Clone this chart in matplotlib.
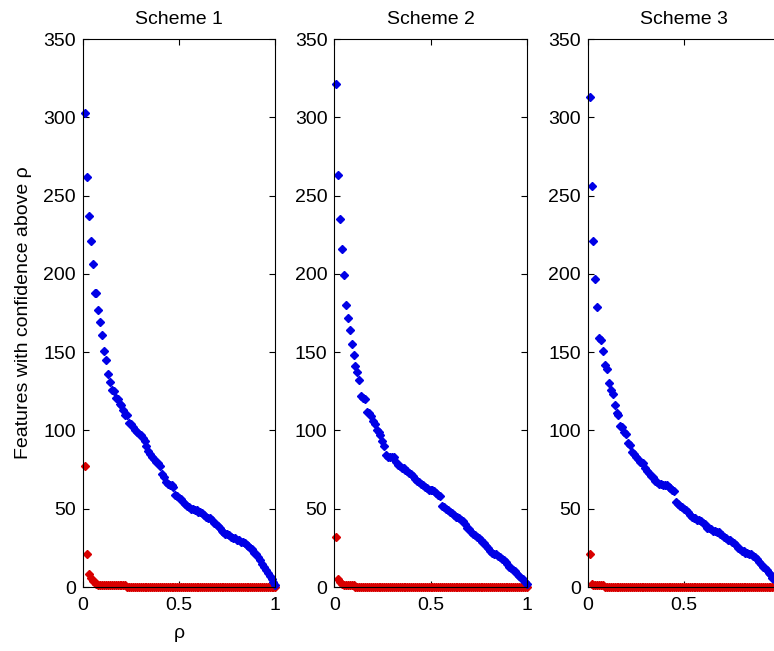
import matplotlib
matplotlib.use("Agg")
import matplotlib.pyplot as plt
import numpy as np

plt.rcParams['font.family'] = ['Liberation Sans', 'DejaVu Sans']

# confidence thresholds
rho = np.arange(1, 101) / 100.0

titles = ['Scheme 1', 'Scheme 2', 'Scheme 3']
# third panel is cut by the right edge, its "1" label falls outside
xlabels = [['0', '0.5', '1'], ['0', '0.5', '1'], ['0', '0.5', '']]

# features with confidence above rho (blue)
blue1 = [303, 262, 237, 221, 206, 188, 188, 177, 169, 161,
         151, 145, 136, 131, 126, 125, 121, 120, 117, 116,
         113, 110, 110, 105, 104, 102, 100, 99, 98, 97,
         95, 93, 90, 87, 85, 83, 82, 80, 79, 77,
         72, 70, 67, 66, 65, 65, 64, 59, 58, 57,
         56, 54, 53, 52, 51, 50, 50, 49, 49, 48,
         48, 47, 46, 45, 44, 44, 43, 41, 40, 39,
         38, 36, 35, 34, 34, 33, 32, 31, 31, 30,
         30, 29, 29, 28, 27, 26, 25, 24, 22, 21,
         19, 17, 15, 13, 11, 9, 7, 5, 3, 1]
blue2 = [321, 263, 235, 216, 199, 180, 172, 164, 155, 148,
         141, 137, 132, 122, 121, 120, 112, 111, 109, 106,
         104, 100, 99, 97, 93, 90, 84, 83, 83, 83,
         83, 80, 78, 77, 76, 76, 75, 74, 73, 72,
         71, 69, 68, 67, 66, 65, 64, 63, 62, 62,
         62, 61, 60, 59, 58, 52, 51, 50, 49, 48,
         47, 46, 45, 45, 44, 43, 42, 40, 38, 37,
         35, 34, 33, 32, 31, 30, 29, 28, 26, 25,
         23, 22, 21, 21, 20, 19, 18, 17, 16, 15,
         13, 12, 11, 10, 8, 7, 6, 5, 3, 2]
blue3 = [313, 256, 221, 197, 179, 159, 158, 151, 142, 139,
         130, 126, 123, 116, 111, 110, 103, 102, 99, 98,
         92, 91, 86, 85, 83, 82, 80, 79, 79, 76,
         74, 73, 71, 70, 68, 67, 66, 66, 65, 65,
         65, 64, 63, 62, 61, 54, 53, 52, 51, 50,
         49, 48, 46, 45, 44, 44, 43, 43, 42, 41,
         40, 38, 38, 37, 36, 36, 35, 35, 34, 33,
         32, 31, 30, 30, 29, 28, 27, 25, 24, 23,
         23, 22, 22, 21, 21, 20, 19, 18, 16, 15,
         13, 12, 11, 9, 8, 6, 5, 4, 3, 2]

# red series
red1 = [77, 21, 8, 6, 4, 3, 2] + [1] * 15 + [0] * 78
red2 = [32, 5, 3, 2] + [1] * 6 + [0] * 90
red3 = [21, 2] + [1] * 6 + [0] * 92

blues = [blue1, blue2, blue3]
reds = [red1, red2, red3]

W, H = 774, 651
fig = plt.figure(figsize=(W / 100, H / 100), dpi=100)
lefts = [83, 334.3, 587.7]
aw, ah = 192.4, 548
bottom = 651 - 587

for i in range(3):
    ax = fig.add_axes([lefts[i] / W, bottom / H, aw / W, ah / H])
    ax.plot(rho, reds[i], linestyle='none', marker='D', ms=3.8,
            color=(0.85, 0, 0), mec=(0.85, 0, 0), clip_on=False)
    ax.plot(rho, blues[i], linestyle='none', marker='D', ms=3.8,
            color=(0, 0, 0.9), mec=(0, 0, 0.9), clip_on=False)
    ax.set_xlim(0, 1)
    ax.set_ylim(0, 350)
    ax.set_xticks([0, 0.5, 1])
    ax.set_xticklabels(xlabels[i])
    ax.set_yticks(range(0, 351, 50))
    ax.tick_params(direction='in', top=True, right=True, length=4,
                   width=0.8, labelsize=14, colors='black')
    ax.tick_params(axis='y', pad=5)
    ax.tick_params(axis='x', pad=7)
    for s in ax.spines.values():
        s.set_linewidth(0.8)
    ax.set_title(titles[i], fontsize=14, pad=11)
    if i == 0:
        ax.set_ylabel('Features with confidence above ρ', fontsize=14, labelpad=8)
        ax.set_xlabel('ρ', fontsize=14, labelpad=8)

fig.savefig('out.png', dpi=100)
